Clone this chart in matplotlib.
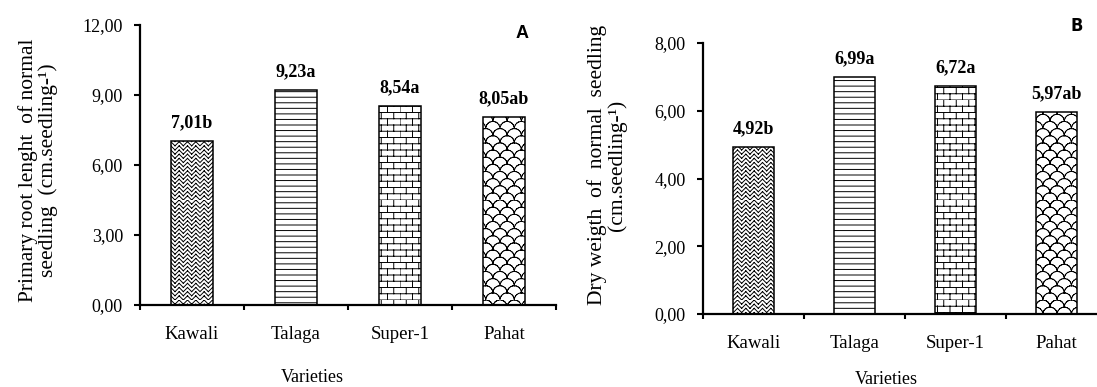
"""
Two bar panels: primary root length (A) and dry weight (B) of normal seedlings per variety
"""

import numpy as np
import matplotlib
matplotlib.use('Agg')
import matplotlib.pyplot as plt
import matplotlib.hatch as mhatch
import matplotlib.ticker as tk
from matplotlib.path import Path

varieties = ['Kawali', 'Talaga', 'Super-1', 'Pahat']
root_len = [7.01, 9.23, 8.54, 8.05]
root_lbl = ['7,01b', '9,23a', '8,54a', '8,05ab']
dry_wt = [4.92, 6.99, 6.72, 5.97]
dry_lbl = ['4,92b', '6,99a', '6,72a', '5,97ab']
yticks_a = [0, 3, 6, 9, 12]
yticks_b = [0, 2, 4, 6, 8]

plt.rcParams['font.family'] = ['Liberation Serif', 'DejaVu Serif']
plt.rcParams['hatch.linewidth'] = 0.7
plt.rcParams['hatch.color'] = 'black'


def make_hatch(char, lines, reps):
    # lines - polylines inside the unit cell, tiled reps x reps per hatch tile
    # Agg fills hatch paths too, so split every polyline into 2-point segments
    segs = []
    for l in lines:
        for a, b in zip(l[:-1], l[1:]):
            segs.append((a, b))

    class _Hatch(mhatch.HatchPatternBase):
        def __init__(self, hatch, density):
            self.n = reps if char in hatch else 0
            self.num_vertices = 2 * len(segs) * self.n * self.n

        def set_vertices_and_codes(self, vertices, codes):
            k = 0
            for i in range(self.n):
                for j in range(self.n):
                    for a, b in segs:
                        vertices[k] = [(i + a[0]) / self.n, (j + a[1]) / self.n]
                        vertices[k + 1] = [(i + b[0]) / self.n, (j + b[1]) / self.n]
                        codes[k] = Path.MOVETO
                        codes[k + 1] = Path.LINETO
                        k += 2
    mhatch._hatch_types.append(_Hatch)


# brick pattern
make_hatch('b', [[(0, 0), (1, 0)], [(0, 0.5), (1, 0.5)],
                 [(0, 0), (0, 0.5)], [(0.5, 0.5), (0.5, 1)]], 8)
# herringbone / zig zag
make_hatch('z', [[(0, 0), (0.5, 0.5), (1, 0)], [(0, 0.5), (0.5, 1), (1, 0.5)]], 12)
# fish scales
t1 = np.linspace(0, np.pi, 12)
t2 = np.linspace(0, np.pi / 2, 7)
make_hatch('w', [list(zip(0.5 + 0.5 * np.cos(t1), 0.5 * np.sin(t1))),
                 list(zip(0.5 * np.cos(t2), 0.5 + 0.5 * np.sin(t2))),
                 list(zip(1 - 0.5 * np.cos(t2), 0.5 + 0.5 * np.sin(t2)))], 7)

hatches = ['z', '---', 'b', 'w']

W, H = 1097., 387.
fig = plt.figure(figsize=(W / 100, H / 100), dpi=100)


def axes_px(l, r, b, t):
    return fig.add_axes([l / W, 1 - b / H, (r - l) / W, (b - t) / H])


def panel(ax, vals, lbls, ticks, ylabel):
    x = np.arange(len(vals))
    ax.bar(x, vals, width=0.4, color='white', edgecolor='black', linewidth=1.1,
           hatch=hatches)
    for xi, v, s in zip(x, vals, lbls):
        ax.annotate(s, (xi, v), xytext=(0, 10), textcoords='offset points',
                    ha='center', va='baseline', fontsize=13, fontweight='bold')
    ax.set_xlim(-0.5, 3.5)
    ax.set_ylim(0, ticks[-1])
    ax.set_yticks(ticks)
    ax.yaxis.set_major_formatter(tk.FuncFormatter(lambda v, p: ('%.2f' % v).replace('.', ',')))
    ax.set_xticks(np.arange(-0.5, 4, 1))
    ax.set_xticklabels([])
    ax.set_xticks(x, minor=True)
    ax.set_xticklabels(varieties, minor=True, fontsize=13.5)
    ax.tick_params(axis='x', which='minor', length=0, pad=15)
    ax.tick_params(axis='x', which='major', length=3.5, width=1.5, direction='out')
    ax.tick_params(axis='y', length=4.3, width=1.5, pad=8, labelsize=13)
    for s in ['top', 'right']:
        ax.spines[s].set_visible(False)
    for s in ['left', 'bottom']:
        ax.spines[s].set_linewidth(1.6)
    ax.set_ylabel(ylabel, fontsize=15.5, linespacing=1.05)


ax1 = axes_px(140, 556, 305, 25)
panel(ax1, root_len, root_lbl, yticks_a,
      'Primary root lenght  of normal\nseedling  (cm.seedling-\u00b9)')
ax1.yaxis.set_label_coords(-0.197, 0.48)
fig.text(522 / W, 1 - 33 / H, 'A', ha='center', va='center',
         fontsize=13, fontweight='bold', family='Liberation Sans')
fig.text(312 / W, 1 - 377 / H, 'Varieties', ha='center', va='center', fontsize=13)

ax2 = axes_px(703, 1107, 314, 43)
panel(ax2, dry_wt, dry_lbl, yticks_b,
      'Dry weigth  of  normal  seedling\n(cm.seedling-\u00b9)')
ax2.yaxis.set_label_coords(-0.187, 0.55)
fig.text(1077 / W, 1 - 26 / H, 'B', ha='center', va='center',
         fontsize=13, fontweight='bold', family='DejaVu Sans', fontstretch='condensed')
fig.text(886 / W, 1 - 380 / H, 'Varieties', ha='center', va='center', fontsize=13)

plt.savefig('out.png', dpi=100)
